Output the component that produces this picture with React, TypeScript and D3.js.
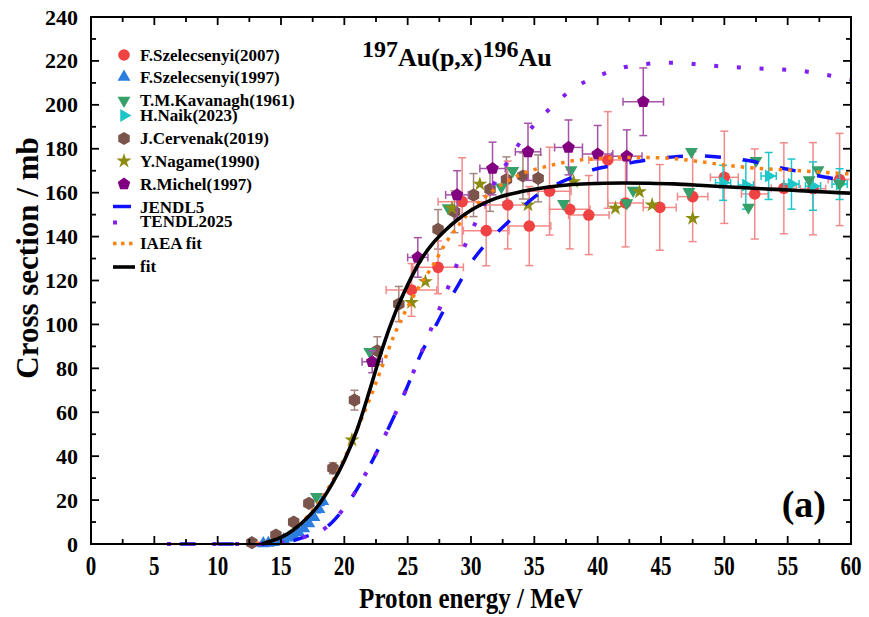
import React from 'react';
import * as d3 from 'd3';

// ---------- DATA ----------
// F.Szelecsenyi(2007)
const sz07E = [25.3, 27.4, 29.3, 31.2, 32.9, 34.6, 36.2, 37.8, 39.3, 40.8, 42.2, 44.9, 47.5, 50.0, 52.4, 54.7, 57.0, 59.1];
const sz07S = [115.7, 126, 155.9, 142.7, 154.4, 144.8, 160.7, 152.4, 149.8, 174.9, 155.3, 153.3, 158.2, 167.0, 159.4, 162.0, 161.8, 166];
const sz07Ey = [12, 12, 20, 16, 20, 18, 20, 18, 18, 22, 20, 19.5, 20.5, 21, 20.5, 20.7, 21, 21];
const sz07Ex = [2, 2, 1.9, 1.8, 1.8, 1.7, 1.7, 1.6, 1.6, 1.5, 1.4, 1.3, 1.2, 1.1, 1.05, 1.0, 1.0, 0.9];

// F.Szelecsenyi(1997)
const sz97E = [13.6, 14.0, 14.4, 14.8, 15.2, 15.6, 16.0, 16.4, 16.8, 17.2, 17.6, 18.0, 18.3];
const sz97S = [0.2, 0.4, 0.8, 1.3, 2.0, 2.8, 3.8, 5.2, 7.0, 9.3, 12.2, 15.8, 19.5];
const sz97Ey = [0.1, 0.1, 0.2, 0.2, 0.3, 0.4, 0.5, 0.6, 0.8, 1.0, 1.3, 1.6, 2.0];

// T.M.Kavanagh(1961)
const kavE = [17.8, 22.0, 28.2, 32.4, 33.3, 37.3, 37.9, 42.3, 42.8, 47.2, 47.4, 51.9, 52.5, 56.7, 57.4, 59.1];
const kavS = [21.5, 87.6, 153, 162.5, 170, 155, 170.3, 155.3, 161, 160.4, 178.7, 153.3, 174.6, 165.8, 170.3, 164];

// H.Naik(2023)
const naikE = [49.9, 51.7, 53.5, 55.3, 57.0, 59.1];
const naikS = [164.5, 163.5, 167.6, 163.9, 163, 163.9];
const naikEy = [8, 11, 10.7, 11.4, 11, 7];
const naikEx = [0.6, 0.6, 0.6, 0.6, 0.6, 0.6];

// J.Cervenak(2019)
const cerE = [12.7, 14.6, 16.0, 17.2, 19.1, 20.8, 22.6, 24.3, 27.4, 28.7, 30.2, 31.5, 32.8, 34.1, 35.3];
const cerS = [0.6, 4.1, 10, 18.5, 34.5, 65.5, 88, 109.3, 143.3, 151.3, 158.9, 161.5, 166, 167.6, 166.5];
const cerEy = [0.5, 0.8, 1, 1.5, 2.5, 4.5, 6.4, 8, 9, 9.5, 9.8, 10, 10.3, 10.5, 10.7];

// Y.Nagame(1990)
const nagE = [20.6, 25.3, 26.4, 28.5, 30.7, 34.5, 38.1, 41.4, 43.3, 44.3, 47.5];
const nagS = [47.4, 110, 119.5, 152.9, 163.9, 154.4, 165, 152.9, 160.4, 154.4, 148.3];

// R.Michel(1997)
const micE = [22.2, 25.8, 28.9, 31.7, 34.5, 37.7, 40.0, 42.3, 43.6];
const micS = [83, 130.5, 159, 171, 178.6, 180.6, 177.6, 176.6, 201.4];
const micEy = [5, 9, 11, 12, 13, 12.5, 13, 12, 15.4];
const micEx = [0.8, 0.8, 0.9, 1, 1, 1.1, 1.2, 1.2, 1.6];

// JENDL5
const jenE = [7, 8, 9, 10, 11, 12, 13, 14, 15, 16, 17, 18, 19, 20, 21, 22, 23, 24, 25, 26, 27, 28, 29, 30, 31, 32, 33, 34, 35, 36, 37, 38, 39, 40, 42, 44, 46, 48, 50, 52, 54, 56, 58, 60];
const jenS = [0, 0, 0, 0, 0, 0, 0, 0.2, 0.6, 1.6, 3.5, 5.5, 9.7, 16.3, 25, 35.5, 47, 59, 72, 86, 97, 108, 118, 128, 135.5, 141.5, 147, 153, 158, 161.5, 164.5, 167, 169.3, 171, 173, 175, 176.3, 176.7, 176, 174.5, 171.8, 169.5, 167, 165.4];

// TENDL2025
const tenE = [6, 8, 10, 12, 13, 14, 15, 16, 17, 18, 19, 20, 21, 22, 23, 24, 25, 26, 27, 28, 29, 30, 31, 32, 33, 34, 35, 36, 37, 38, 39, 40, 42, 44, 46, 48, 50, 52, 54, 56, 58, 60];
const tenS = [0, 0, 0, 0, 0, 0.2, 0.6, 1.6, 3.5, 5.3, 9.8, 16.5, 25, 35.5, 47, 59, 72, 86, 100, 114, 129, 142, 154, 166, 175, 184, 191, 197, 202.5, 207, 210.5, 213, 217, 218.7, 219.2, 218.4, 217.4, 216.8, 216.2, 215.5, 213.7, 211.6];

// IAEA fit
const iaeaE = [13, 14, 15, 16, 17, 18, 19, 20, 21, 22, 23, 24, 25, 26, 27, 28, 29, 30, 32, 34, 36, 38, 40, 42, 44, 46, 48, 50, 52, 54, 56, 58, 60];
const iaeaS = [0.2, 1, 3, 6.5, 12, 19, 28, 39, 52, 66, 81, 96, 108, 118, 127, 137, 145, 152, 162, 168.5, 172, 174.5, 175.5, 176, 176, 175.5, 174.2, 172.6, 171.4, 170.6, 170, 169.2, 168.5];

// fit
const fitE = [13.5, 14, 15, 16, 17, 18, 19, 20, 21, 22, 23, 24, 25, 26, 27, 28, 29, 30, 32, 34, 36, 38, 40, 42, 44, 46, 48, 50, 52, 54, 56, 58, 60];
const fitS = [0, 1, 3, 6.5, 11.5, 18, 27, 38, 52, 70, 89, 105, 118, 129, 137, 143, 148, 152, 157.5, 160.5, 162.5, 163.7, 164.2, 164.4, 164.3, 164, 163.4, 162.7, 162.1, 161.5, 160.9, 160.3, 159.7];

const xTicks = [0, 5, 10, 15, 20, 25, 30, 35, 40, 45, 50, 55, 60];
const yTicks = [0, 20, 40, 60, 80, 100, 120, 140, 160, 180, 200, 220, 240];

// ---------- LAYOUT ----------
const W = 869, H = 617;
const X0 = 91, X1 = 851, Y0 = 544, Y1 = 17;
const FONT = '"Times New Roman", "Liberation Serif", serif';

const x = d3.scaleLinear().domain([0, 60]).range([X0, X1]);
const y = d3.scaleLinear().domain([0, 240]).range([Y0, Y1]);

const C = {
  sz07: '#ef4343', sz07bar: '#f28a8a',
  sz97: '#2b7de0',
  kav: '#36a06a',
  naik: '#1ec6c9',
  cer: '#7a534a', cerbar: '#a4867f',
  nag: '#8c8c10',
  mic: '#800080', micbar: '#a653a6',
  jen: '#1010ff',
  ten: '#8020f0',
  iaea: '#ff8010',
  fit: '#000000',
};

function polyPath(n: number, r: number, rot = -Math.PI / 2) {
  const pts = d3.range(n).map(i => {
    const a = rot + (2 * Math.PI * i) / n;
    return [r * Math.cos(a), r * Math.sin(a)];
  });
  return 'M' + pts.map(p => p[0].toFixed(2) + ',' + p[1].toFixed(2)).join('L') + 'Z';
}

const triPath = d3.symbol().type(d3.symbolTriangle).size(72)() as string;
const starPath = d3.symbol().type(d3.symbolStar).size(70)() as string;

function Marker({ type, cx, cy, color }: { type: string; cx: number; cy: number; color: string }) {
  const t = `translate(${cx},${cy})`;
  if (type === 'circle') return <circle cx={cx} cy={cy} r={5.8} fill={color} />;
  if (type === 'tri') return <path d={triPath} transform={t} fill={color} />;
  if (type === 'tridown') return <path d={triPath} transform={`${t} rotate(180)`} fill={color} />;
  if (type === 'triright') return <path d={triPath} transform={`${t} rotate(90)`} fill={color} />;
  if (type === 'hex') return <path d={polyPath(6, 6.6)} transform={t} fill={color} />;
  if (type === 'star') return <path d={starPath} transform={t} fill={color} />;
  if (type === 'pent') return <path d={polyPath(5, 6.6)} transform={t} fill={color} />;
  return null;
}

function ErrBars({ E, S, ey, ex, color, cap = 4 }: { E: number[]; S: number[]; ey?: number[]; ex?: number[]; color: string; cap?: number }) {
  const els: React.ReactElement[] = [];
  E.forEach((e, i) => {
    const cx = x(e), cy = y(S[i]);
    if (ey) {
      const t = y(S[i] + ey[i]), b = y(S[i] - ey[i]);
      els.push(<line key={'v' + i} x1={cx} x2={cx} y1={t} y2={b} stroke={color} strokeWidth={1.5} />);
      els.push(<line key={'vt' + i} x1={cx - cap} x2={cx + cap} y1={t} y2={t} stroke={color} strokeWidth={1.5} />);
      els.push(<line key={'vb' + i} x1={cx - cap} x2={cx + cap} y1={b} y2={b} stroke={color} strokeWidth={1.5} />);
    }
    if (ex) {
      const l = x(e - ex[i]), r = x(e + ex[i]);
      els.push(<line key={'h' + i} x1={l} x2={r} y1={cy} y2={cy} stroke={color} strokeWidth={1.5} />);
      els.push(<line key={'hl' + i} x1={l} x2={l} y1={cy - cap} y2={cy + cap} stroke={color} strokeWidth={1.5} />);
      els.push(<line key={'hr' + i} x1={r} x2={r} y1={cy - cap} y2={cy + cap} stroke={color} strokeWidth={1.5} />);
    }
  });
  return <g>{els}</g>;
}

function Points({ E, S, type, color }: { E: number[]; S: number[]; type: string; color: string }) {
  return <g>{E.map((e, i) => <Marker key={i} type={type} cx={x(e)} cy={y(S[i])} color={color} />)}</g>;
}

function curve(E: number[], S: number[]) {
  const line = d3.line<number>().x((_, i) => x(E[i])).y((_, i) => y(S[i])).curve(d3.curveMonotoneX);
  return line(E.map((_, i) => i)) as string;
}

export default function App() {
  const xMinor = d3.range(0, 60.01, 2.5).filter(v => v % 5 !== 0);
  const yMinor = d3.range(10, 240, 20);
  const tickStroke = { stroke: '#000', strokeWidth: 1.8 };

  const legend = [
    { label: 'F.Szelecsenyi(2007)', y: 55, type: 'circle', color: C.sz07 },
    { label: 'F.Szelecsenyi(1997)', y: 77, type: 'tri', color: C.sz97 },
    { label: 'T.M.Kavanagh(1961)', y: 100.5, type: 'tridown', color: C.kav },
    { label: 'H.Naik(2023)', y: 115.5, type: 'triright', color: C.naik },
    { label: 'J.Cervenak(2019)', y: 138.5, type: 'hex', color: C.cer },
    { label: 'Y.Nagame(1990)', y: 161, type: 'star', color: C.nag },
    { label: 'R.Michel(1997)', y: 184, type: 'pent', color: C.mic },
  ];

  return (
    <svg width={W} height={H} viewBox={`0 0 ${W} ${H}`} style={{ position: 'absolute', left: 0, top: 0, background: '#fff' }}>
      <rect x={0} y={0} width={W} height={H} fill="#fff" />

      {/* data: error bars + markers */}
      <ErrBars E={sz97E} S={sz97S} ey={sz97Ey} color={C.sz97} cap={2} />
      <Points E={sz97E} S={sz97S} type="tri" color={C.sz97} />

      <ErrBars E={cerE} S={cerS} ey={cerEy} color={C.cerbar} />
      <Points E={cerE} S={cerS} type="hex" color={C.cer} />

      <ErrBars E={sz07E} S={sz07S} ey={sz07Ey} ex={sz07Ex} color={C.sz07bar} />
      <Points E={sz07E} S={sz07S} type="circle" color={C.sz07} />

      <ErrBars E={naikE} S={naikS} ey={naikEy} ex={naikEx} color={C.naik} />
      <Points E={naikE} S={naikS} type="triright" color={C.naik} />

      <Points E={kavE} S={kavS} type="tridown" color={C.kav} />
      <Points E={nagE} S={nagS} type="star" color={C.nag} />

      <ErrBars E={micE} S={micS} ey={micEy} ex={micEx} color={C.micbar} />
      <Points E={micE} S={micS} type="pent" color={C.mic} />

      {/* curves */}
      <path d={curve(jenE, jenS)} fill="none" stroke={C.jen} strokeWidth={3.5} strokeDasharray="16 22" />
      <path d={curve(tenE, tenS)} fill="none" stroke={C.ten} strokeWidth={4} strokeDasharray="4 18.7" />
      <path d={curve(iaeaE, iaeaS)} fill="none" stroke={C.iaea} strokeWidth={3.5} strokeDasharray="3.5 6" />
      <path d={curve(fitE, fitS)} fill="none" stroke={C.fit} strokeWidth={3.6} />

      {/* frame */}
      <rect x={X0} y={Y1} width={X1 - X0} height={Y0 - Y1} fill="none" stroke="#000" strokeWidth={2} />

      {/* ticks */}
      {xTicks.map(v => (
        <g key={'xt' + v}>
          <line x1={x(v)} x2={x(v)} y1={Y0} y2={Y0 - 8} {...tickStroke} />
          <line x1={x(v)} x2={x(v)} y1={Y1} y2={Y1 + 8} {...tickStroke} />
          <text transform={`translate(${x(v)},575) scale(1,1.28)`} textAnchor="middle" fontFamily={FONT} fontWeight="bold" fontSize={21}>{v}</text>
        </g>
      ))}
      {xMinor.map(v => (
        <g key={'xm' + v}>
          <line x1={x(v)} x2={x(v)} y1={Y0} y2={Y0 - 5} {...tickStroke} />
          <line x1={x(v)} x2={x(v)} y1={Y1} y2={Y1 + 5} {...tickStroke} />
        </g>
      ))}
      {yTicks.map(v => (
        <g key={'yt' + v}>
          <line x1={X0} x2={X0 + 8} y1={y(v)} y2={y(v)} {...tickStroke} />
          <line x1={X1} x2={X1 - 8} y1={y(v)} y2={y(v)} {...tickStroke} />
          <text x={78} y={y(v) + 7.5} textAnchor="end" fontFamily={FONT} fontWeight="bold" fontSize={22}>{v}</text>
        </g>
      ))}
      {yMinor.map(v => (
        <g key={'ym' + v}>
          <line x1={X0} x2={X0 + 5} y1={y(v)} y2={y(v)} {...tickStroke} />
          <line x1={X1} x2={X1 - 5} y1={y(v)} y2={y(v)} {...tickStroke} />
        </g>
      ))}

      {/* axis titles */}
      <text transform="translate(471,608) scale(1,1.15)" textAnchor="middle" fontFamily={FONT} fontWeight="bold" fontSize={25}>Proton energy / MeV</text>
      <text transform="translate(38,258) rotate(-90)" textAnchor="middle" fontFamily={FONT} fontWeight="bold" fontSize={31}>Cross section / mb</text>

      {/* title */}
      <text x={362} y={66} fontFamily={FONT} fontWeight="bold" fontSize={26}>
        <tspan fontSize={24} dy={-9}>197</tspan>
        <tspan dy={9}>Au(p,x)</tspan>
        <tspan fontSize={24} dy={-9}>196</tspan>
        <tspan dy={9}>Au</tspan>
      </text>

      {/* panel label */}
      <text x={826} y={517} textAnchor="end" fontFamily={FONT} fontWeight="bold" fontSize={38}>(a)</text>

      {/* legend */}
      {legend.map(l => (
        <g key={l.label}>
          <Marker type={l.type} cx={124} cy={l.y} color={l.color} />
          <text x={140} y={l.y} dominantBaseline="central" fontFamily={FONT} fontWeight="bold" fontSize={17}>{l.label}</text>
        </g>
      ))}
      <line x1={113} x2={131} y1={206.5} y2={206.5} stroke={C.jen} strokeWidth={3.5} />
      <text x={140} y={207} dominantBaseline="central" fontFamily={FONT} fontWeight="bold" fontSize={17}>JENDL5</text>
      <rect x={113} y={220.5} width={4} height={4} fill={C.ten} />
      <text x={140} y={221} dominantBaseline="central" fontFamily={FONT} fontWeight="bold" fontSize={17}>TENDL2025</text>
      <line x1={113} x2={133} y1={243.5} y2={243.5} stroke={C.iaea} strokeWidth={3.5} strokeDasharray="3.5 4.5" />
      <text x={140} y={243} dominantBaseline="central" fontFamily={FONT} fontWeight="bold" fontSize={17}>IAEA fit</text>
      <line x1={113} x2={135} y1={267} y2={267} stroke={C.fit} strokeWidth={3.6} />
      <text x={140} y={266} dominantBaseline="central" fontFamily={FONT} fontWeight="bold" fontSize={17}>fit</text>
    </svg>
  );
}
